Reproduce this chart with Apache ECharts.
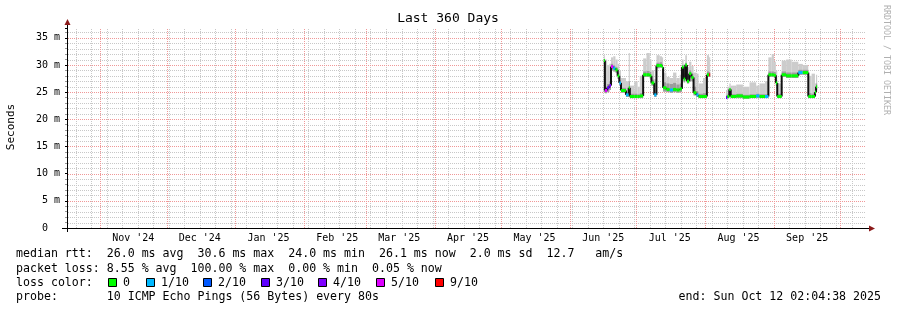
<!DOCTYPE html>
<html><head><meta charset="utf-8">
<script src="https://cdn.jsdelivr.net/npm/echarts@6/dist/echarts.min.js"></script>
<style>html,body{margin:0;padding:0;background:#fff}#c{width:897px;height:310px}</style>
</head><body><div id="c"></div><script>
// ---- data ----
const startTime = '2024-10-17 02:04:38';
const endTime = '2025-10-12 02:04:38';
const monthStarts = ['2024-11-01','2024-12-01','2025-01-01','2025-02-01','2025-03-01','2025-04-01','2025-05-01','2025-06-01','2025-07-01','2025-08-01','2025-09-01','2025-10-01'];
const monthLabelTimes = ['2024-11-16','2024-12-16','2025-01-16','2025-02-16','2025-03-16','2025-04-16','2025-05-16','2025-06-16','2025-07-16','2025-08-16','2025-09-16'];
const yMajor = [5,10,15,20,25,30,35];
const times = ['2025-06-16 06:00','2025-06-16 18:00','2025-06-17 18:00','2025-06-18 18:00','2025-06-19 12:00','2025-06-20 12:00','2025-06-21 12:00','2025-06-22 12:00','2025-06-23 06:00','2025-06-24 00:00','2025-06-26 06:00','2025-06-27 12:00','2025-06-28 00:00','2025-06-30 00:00','2025-07-01 12:00','2025-07-02 12:00','2025-07-04 00:00','2025-07-05 12:00','2025-07-07 00:00','2025-07-07 18:00','2025-07-09 00:00','2025-07-10 00:00','2025-07-11 12:00','2025-07-12 12:00','2025-07-13 00:00','2025-07-14 12:00','2025-07-16 00:00','2025-07-17 12:00','2025-07-19 00:00','2025-07-20 12:00','2025-07-21 12:00','2025-07-22 06:00','2025-07-23 00:00','2025-07-23 18:00','2025-07-24 18:00','2025-07-25 18:00','2025-07-26 18:00','2025-07-28 00:00','2025-07-29 00:00','2025-07-31 00:00','2025-08-01 18:00','2025-08-02 18:00','2025-08-03 06:00','2025-08-10 09:00','2025-08-11 00:00','2025-08-11 21:00','2025-08-12 12:00','2025-08-15 00:00','2025-08-18 00:00','2025-08-21 00:00','2025-08-24 00:00','2025-08-25 12:00','2025-08-28 00:00','2025-08-29 12:00','2025-08-31 00:00','2025-09-01 00:00','2025-09-01 21:00','2025-09-02 12:00','2025-09-04 12:00','2025-09-06 12:00','2025-09-09 00:00','2025-09-12 00:00','2025-09-14 00:00','2025-09-16 12:00','2025-09-18 00:00','2025-09-19 12:00','2025-09-20 00:00','2025-09-20 12:00'];
const median = [30.8,25.3,25.8,26.2,29.7,29.4,29.1,28.0,26.7,25.3,24.5,25.8,24.2,24.2,24.2,24.3,28.2,28.2,28.0,26.7,24.5,29.9,29.9,29.6,25.8,25.5,25.4,25.5,25.4,25.6,29.6,27.4,30.0,27.0,28.4,27.7,24.9,24.5,24.2,24.2,28.2,28.2,null,24.0,24.2,25.5,24.2,24.3,24.1,24.2,24.3,24.2,24.2,28.2,28.2,28.1,26.7,24.2,28.2,28.0,28.0,28.6,28.6,24.2,24.2,25.0,26.0,null];
const smokeLo = [25.0,24.8,25.0,25.4,29.0,28.8,28.6,27.4,26.2,24.9,24.1,24.2,23.9,23.9,23.9,23.9,27.8,27.8,27.5,26.2,24.1,29.4,29.5,29.0,25.1,25.0,24.9,25.0,24.9,25.0,27.0,26.8,27.2,26.6,27.0,27.0,24.4,24.1,23.9,23.9,27.8,27.8,null,23.8,23.9,24.2,23.9,23.9,23.8,23.9,23.9,23.9,23.9,27.8,27.8,27.6,26.2,23.9,27.8,27.6,27.6,28.2,28.2,23.9,23.9,24.2,25.4,null];
const smokeMid = [31.0,26.0,26.5,27.0,30.2,29.9,29.6,28.6,27.2,25.8,25.0,27.0,24.7,24.7,24.6,24.8,28.8,28.9,28.7,27.3,25.0,30.4,30.5,30.2,26.8,26.6,26.5,26.7,26.4,26.6,30.0,28.5,30.4,28.0,29.0,28.4,26.0,25.2,24.7,24.8,28.8,28.7,null,24.4,24.6,25.8,24.6,24.7,24.5,24.6,24.7,24.6,24.6,28.8,28.8,28.7,27.2,24.7,28.8,28.6,28.6,29.1,29.1,24.8,24.7,25.6,26.6,null];
const smokeHi = [31.8,31.0,30.0,30.2,31.4,31.6,31.0,30.2,29.0,27.6,27.0,32.2,26.2,27.0,26.0,28.0,31.2,32.2,31.0,29.0,27.4,31.8,31.6,31.4,28.6,27.8,27.6,28.6,27.6,28.2,31.0,30.2,31.8,29.6,30.6,29.8,28.6,28.4,26.6,27.6,31.8,31.4,null,25.4,26.0,26.6,26.2,26.4,26.0,26.8,26.2,26.6,27.0,31.4,32.0,30.6,29.0,26.6,30.8,31.0,30.6,30.2,30.0,28.0,28.4,26.6,28.2,null];
const loss = [0,5,3,4,5,1,0,0,1,0,1,0,0,0,0,0,0,0,0,0,1,0,0,0,0,0,1,0,0,0,0,0,0,0,0,0,0,1,0,0,0,9,null,3,0,0,0,0,0,0,1,0,1,0,0,0,0,0,0,0,0,1,0,0,0,0,0,null];
const lossLabels = ['0','1/10','2/10','3/10','4/10','5/10','9/10'];
const lossColors = ['#00ff00','#00b8ff','#0059ff','#5e00ff','#7e00ff','#dd00ff','#ff0000'];
const statLines = [
  'median rtt:  26.0 ms avg  30.6 ms max  24.0 ms min  26.1 ms now  2.0 ms sd  12.7   am/s',
  'packet loss: 8.55 % avg  100.00 % max  0.00 % min  0.05 % now',
  'loss color:',
  'probe:       10 ICMP Echo Pings (56 Bytes) every 80s'
];
const endText = 'end: Sun Oct 12 02:04:38 2025';

// ---- helpers ----
const MONO = "'DejaVu Sans Mono', monospace";
const MON = ['Jan','Feb','Mar','Apr','May','Jun','Jul','Aug','Sep','Oct','Nov','Dec'];
const ts = s => new Date(s.indexOf(' ') > 0 ? s.replace(' ', 'T') : s + 'T00:00').getTime();
const lossBin = l => l <= 4 ? l : (l <= 8 ? 5 : 6);
const tMin = ts(startTime), tMax = ts(endTime);
const GRID_MINOR = '#c8c8c8', GRID_MAJOR = '#f09898';
const YMAX = 36.8;

// week grid (Mondays) and month grid
const vLines = [];
{ let d = new Date(tMin); d.setHours(0,0,0,0); while (d.getDay() !== 1) d.setDate(d.getDate()+1);
  while (d.getTime() < tMax) { vLines.push([d.getTime(), 0]); d.setDate(d.getDate()+7); } }
monthStarts.forEach(s => vLines.push([ts(s), 1]));
const hLines = [];
for (let v = 1; v < YMAX; v++) if (yMajor.indexOf(v) < 0) hLines.push([v, 0]);
yMajor.forEach(v => hLines.push([v, 1]));

const smokeData = [], medData = [];
for (let i = 0; i < times.length - 1; i++) {
  if (median[i] == null) continue;
  smokeData.push([ts(times[i]), ts(times[i+1]), smokeLo[i], smokeHi[i], smokeMid[i]]);
  medData.push([ts(times[i]), ts(times[i+1]), median[i], median[i+1] == null ? NaN : median[i+1], lossBin(loss[i])]);
}

const chart = echarts.init(document.getElementById('c'), null, {renderer:'canvas'});
const graphic = [];
graphic.push({type:'text', x:448, y:19, style:{text:'Last 360 Days', font:"13px "+MONO, fill:'#000', align:'center', verticalAlign:'middle'}});
graphic.push({type:'text', x:11, y:127, rotation:Math.PI/2, style:{text:'Seconds', font:"11px "+MONO, fill:'#000', align:'center', verticalAlign:'middle'}});
graphic.push({type:'text', x:886, y:5, rotation:-Math.PI/2, style:{text:'RRDTOOL / TOBI OETIKER', font:"8.3px "+MONO, fill:'#b0b0b0', align:'left', verticalAlign:'middle'}});
graphic.push({type:'line', shape:{x1:67.5,y1:232,x2:67.5,y2:24}, style:{stroke:'#000',lineWidth:1}, z:10});
graphic.push({type:'line', shape:{x1:62,y1:228.5,x2:870,y2:228.5}, style:{stroke:'#000',lineWidth:1}, z:10});
graphic.push({type:'polygon', shape:{points:[[64.5,25],[70.5,25],[67.5,19]]}, style:{fill:'#8b1a1a'}, z:11});
graphic.push({type:'polygon', shape:{points:[[869,225.5],[869,231.5],[875,228.5]]}, style:{fill:'#8b1a1a'}, z:11});
const lineY = [254, 268.5, 282.5, 296.5];
statLines.forEach((t, i) => graphic.push({type:'text', x:16, y:lineY[i], style:{text:t, font:"11.6px "+MONO, fill:'#000', verticalAlign:'middle'}}));
graphic.push({type:'text', x:881, y:lineY[3], style:{text:endText, font:"11.6px "+MONO, fill:'#000', align:'right', verticalAlign:'middle'}});
const boxX = [108, 146, 203, 261, 318, 376, 435];
lossLabels.forEach((lab, i) => {
  graphic.push({type:'rect', shape:{x:boxX[i]+0.5, y:278.5, width:8, height:8}, style:{fill:lossColors[i], stroke:'#000', lineWidth:1}});
  graphic.push({type:'text', x:boxX[i]+15, y:lineY[2], style:{text:lab, font:"11.6px "+MONO, fill:'#000', verticalAlign:'middle'}});
});

chart.setOption({
  animation:false,
  backgroundColor:'#fff',
  grid:{left:67, right:32, top:28, height:200},
  xAxis:{type:'value', min:tMin, max:tMax,
    axisLine:{show:false}, axisTick:{show:false}, splitLine:{show:false},
    axisLabel:{customValues:monthLabelTimes.map(ts), margin:5, color:'#000', fontFamily:MONO, fontSize:10, hideOverlap:false,
      formatter:v => { const d = new Date(v); return MON[d.getMonth()] + " '" + String(d.getFullYear()).slice(2); }}},
  yAxis:{type:'value', min:0, max:YMAX, interval:5,
    axisLine:{show:false},
    axisTick:{show:true, length:2, lineStyle:{color:'#000'}},
    minorTick:{show:true, splitNumber:5, length:2, lineStyle:{color:'#999'}},
    axisLabel:{margin:7, color:'#000', fontFamily:MONO, fontSize:10, showMaxLabel:false,
      formatter:v => v === 0 ? '0  ' : v + ' m'},
    splitLine:{show:false}, minorSplitLine:{show:false}},
  graphic:graphic,
  series:[
    {type:'custom', name:'hgrid', silent:true, z:1, data:hLines, encode:{y:0},
      renderItem:(params, api) => {
        const p0 = api.coord([tMin, api.value(0)]), p1 = api.coord([tMax, api.value(0)]);
        const y = Math.round(p0[1]) + 0.5;
        return {type:'line', shape:{x1:p0[0]+1, y1:y, x2:p1[0], y2:y},
          style:{stroke: api.value(1) ? GRID_MAJOR : GRID_MINOR, lineWidth:1, lineDash:[1,1]}, z2: api.value(1) ? 2 : 1};
      }},
    {type:'custom', name:'vgrid', silent:true, z:1, data:vLines, encode:{x:0},
      renderItem:(params, api) => {
        const p0 = api.coord([api.value(0), 0]), p1 = api.coord([api.value(0), YMAX]);
        const x = Math.round(p0[0]) + 0.5;
        return {type:'line', shape:{x1:x, y1:p0[1], x2:x, y2:p1[1]},
          style:{stroke: api.value(1) ? GRID_MAJOR : GRID_MINOR, lineWidth:1, lineDash:[1,1]}, z2: api.value(1) ? 2 : 1};
      }},
    {type:'custom', name:'smoke', silent:true, z:2, data:smokeData, clip:true,
      encode:{x:[0,1], y:[2,3]},
      renderItem:(params, api) => {
        const a = api.coord([api.value(0), api.value(3)]), b = api.coord([api.value(1), api.value(2)]);
        const m = api.coord([api.value(0), api.value(4)]);
        return {type:'group', children:[
          {type:'rect', shape:{x:a[0], y:a[1], width:b[0]-a[0], height:b[1]-a[1]}, style:{fill:'#cccccc'}},
          {type:'rect', shape:{x:a[0], y:m[1], width:b[0]-a[0], height:b[1]-m[1]}, style:{fill:'#9c9c9c'}}
        ]};
      }},
    {type:'custom', name:'median', silent:true, z:3, data:medData, clip:true,
      encode:{x:[0,1], y:2},
      renderItem:(params, api) => {
        const a = api.coord([api.value(0), api.value(2)]), b = api.coord([api.value(1), api.value(2)]);
        const ch = [];
        const nm = api.value(3);
        if (!isNaN(nm)) {
          const c = api.coord([api.value(1), nm]);
          ch.push({type:'line', shape:{x1:b[0], y1:b[1], x2:c[0], y2:c[1]}, style:{stroke:'#111', lineWidth:2}});
        }
        ch.push({type:'rect', shape:{x:a[0], y:a[1]-1.5, width:b[0]-a[0], height:3}, style:{fill:lossColors[api.value(4)]}});
        return {type:'group', children:ch};
      }}
  ]
});
</script></body></html>
